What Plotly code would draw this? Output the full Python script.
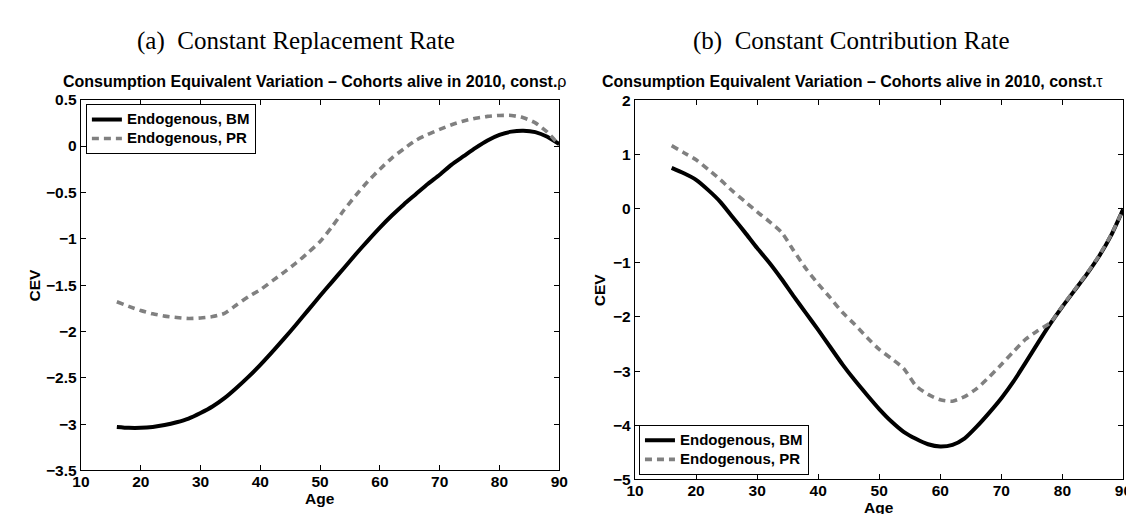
import plotly.graph_objects as go

# ---------------- data ----------------
AGES = list(range(16, 91, 2))

# (a) constant replacement rate
A_BM = [-3.03, -3.04, -3.04, -3.03, -3.01, -2.98, -2.94, -2.88, -2.81, -2.72,
        -2.61, -2.49, -2.36, -2.22, -2.075, -1.925, -1.77, -1.615, -1.465, -1.315,
        -1.165, -1.02, -0.88, -0.75, -0.63, -0.52, -0.41, -0.31, -0.20, -0.11,
        -0.02, 0.06, 0.12, 0.155, 0.165, 0.15, 0.10, 0.02]
A_PR = [-1.68, -1.73, -1.775, -1.81, -1.835, -1.85, -1.86, -1.855, -1.84, -1.805,
        -1.715, -1.625, -1.55, -1.455, -1.36, -1.26, -1.15, -1.03, -0.87, -0.69,
        -0.53, -0.38, -0.25, -0.13, -0.03, 0.06, 0.125, 0.18, 0.23, 0.27,
        0.30, 0.32, 0.33, 0.33, 0.305, 0.25, 0.15, 0.01]

# (b) constant contribution rate
B_BM = [0.75, 0.65, 0.53, 0.34, 0.12, -0.16, -0.44, -0.73, -1.00, -1.30,
        -1.62, -1.93, -2.24, -2.56, -2.88, -3.17, -3.44, -3.70, -3.93, -4.12,
        -4.25, -4.35, -4.39, -4.36, -4.24, -4.02, -3.77, -3.50, -3.19, -2.84,
        -2.48, -2.13, -1.81, -1.51, -1.21, -0.88, -0.49, 0.0]
B_PR = [1.16, 1.03, 0.90, 0.72, 0.53, 0.32, 0.13, -0.06, -0.24, -0.44,
        -0.78, -1.11, -1.39, -1.65, -1.92, -2.14, -2.38, -2.60, -2.77, -2.95,
        -3.27, -3.43, -3.53, -3.555, -3.47, -3.32, -3.11, -2.88, -2.64, -2.41,
        -2.25, -2.11, -1.80, -1.50, -1.20, -0.87, -0.48, 0.0]

SERIES_NAMES = ["Endogenous, BM", "Endogenous, PR"]

X_TICKS = [10, 20, 30, 40, 50, 60, 70, 80, 90]
X_TICKTEXT = ["10", "20", "30", "40", "50", "60", "70", "80", "90"]
A_YTICKS = [-3.5, -3, -2.5, -2, -1.5, -1, -0.5, 0, 0.5]
A_YTICKTEXT = ["\u22123.5", "\u22123", "\u22122.5", "\u22122", "\u22121.5",
               "\u22121", "\u22120.5", "0", "0.5"]
B_YTICKS = [-5, -4, -3, -2, -1, 0, 1, 2]
B_YTICKTEXT = ["\u22125", "\u22124", "\u22123", "\u22122", "\u22121", "0", "1", "2"]

PANEL_TITLES = ["(a)  Constant Replacement Rate", "(b)  Constant Contribution Rate"]
SUB_TITLES = ["Consumption Equivalent Variation \u2013 Cohorts alive in 2010, const.",
              "Consumption Equivalent Variation \u2013 Cohorts alive in 2010, const."]
GREEK = ["\u03c1", "\u03c4"]
X_TITLE = "Age"
Y_TITLE = "CEV"

# ---------------- layout geometry (pixels) ----------------
W, H = 1134, 514
def px(x):
    return x / W
def py(y):
    return 1 - y / H
def bold(labels):
    return ["<b>" + s + "</b>" for s in labels]
def legend_label(s):
    return "<span style='font-size:15px'><b>" + s + "</b></span>"

SANS = "Liberation Sans, Arial, Helvetica, sans-serif"
SERIF = "Liberation Serif, Times New Roman, serif"
BLACK = "#000000"
GRAY = "#808080"

fig = go.Figure()

def add_pair(bm, pr, xa, ya, leg):
    fig.add_trace(go.Scatter(x=AGES, y=bm, name=legend_label(SERIES_NAMES[0]), mode="lines",
                             line=dict(color=BLACK, width=4, shape="spline", smoothing=0.6),
                             xaxis=xa, yaxis=ya, legend=leg))
    fig.add_trace(go.Scatter(x=AGES, y=pr, name=legend_label(SERIES_NAMES[1]), mode="lines",
                             line=dict(color=GRAY, width=3.6, dash="7px,5px",
                                       shape="spline", smoothing=0.6),
                             xaxis=xa, yaxis=ya, legend=leg))

add_pair(A_BM, A_PR, "x", "y", "legend")
add_pair(B_BM, B_PR, "x2", "y2", "legend2")

tickfont = dict(family=SANS, size=15.5, color=BLACK, weight="bold")
axis_common = dict(showline=True, linecolor=BLACK, linewidth=1.4, mirror="allticks",
                   ticks="inside", ticklen=5, tickwidth=1, tickcolor=BLACK,
                   showgrid=False, zeroline=False, tickfont=tickfont)

legend_common = dict(bgcolor="white", bordercolor=BLACK, borderwidth=1,
                     font=dict(family=SANS, size=12, color=BLACK),
                     tracegroupgap=0, itemwidth=30, itemclick=False, itemdoubleclick=False)

fig.update_layout(
    width=W, height=H,
    margin=dict(l=0, r=0, t=0, b=0),
    paper_bgcolor="white", plot_bgcolor="white",
    showlegend=True,
    xaxis=dict(domain=[px(65), px(551)], range=[10, 90], tickvals=X_TICKS,
               ticktext=bold(X_TICKTEXT), anchor="y", ticklabelstandoff=-3, **axis_common),
    yaxis=dict(domain=[py(469), py(85.5)], range=[-3.5, 0.5], tickvals=A_YTICKS,
               ticktext=bold(A_YTICKTEXT), anchor="x", **axis_common),
    xaxis2=dict(domain=[px(628), px(1124.3)], range=[10, 90], tickvals=X_TICKS,
                ticktext=bold(X_TICKTEXT), anchor="y2", ticklabelstandoff=-3, **axis_common),
    yaxis2=dict(domain=[py(478.3), py(86)], range=[-5, 2], tickvals=B_YTICKS,
                ticktext=bold(B_YTICKTEXT), anchor="x2", **axis_common),
    legend=dict(x=px(70), y=py(90), xanchor="left", yanchor="top", **legend_common),
    legend2=dict(x=px(632), y=py(473.5), xanchor="left", yanchor="bottom", **legend_common),
)

ann = []
for text, cx in zip(PANEL_TITLES, [283, 848]):
    ann.append(dict(text=text, x=px(cx), y=py(25), xref="paper", yref="paper",
                    xanchor="center", yanchor="middle", showarrow=False,
                    font=dict(family=SERIF, size=25, color=BLACK)))
for text, g, cx in zip(SUB_TITLES, GREEK, [302, 849]):
    ann.append(dict(text="<b>" + text + "</b>" + g,
                    x=px(cx), y=py(67), xref="paper", yref="paper",
                    xanchor="center", yanchor="middle", showarrow=False,
                    font=dict(family=SANS, size=16, color=BLACK)))
for cx, cy in [(308, 498), (876, 507)]:
    ann.append(dict(text="<b>" + X_TITLE + "</b>", x=px(cx), y=py(cy), xref="paper", yref="paper",
                    xanchor="center", yanchor="middle", showarrow=False,
                    font=dict(family=SANS, size=15.5, color=BLACK)))
for cx, cy in [(18, 277), (592, 282)]:
    ann.append(dict(text="<b>" + Y_TITLE + "</b>", x=px(cx), y=py(cy), xref="paper", yref="paper",
                    xanchor="center", yanchor="middle", showarrow=False, textangle=-90,
                    font=dict(family=SANS, size=15.5, color=BLACK)))
fig.update_layout(annotations=ann)

fig.write_html("out.html")
